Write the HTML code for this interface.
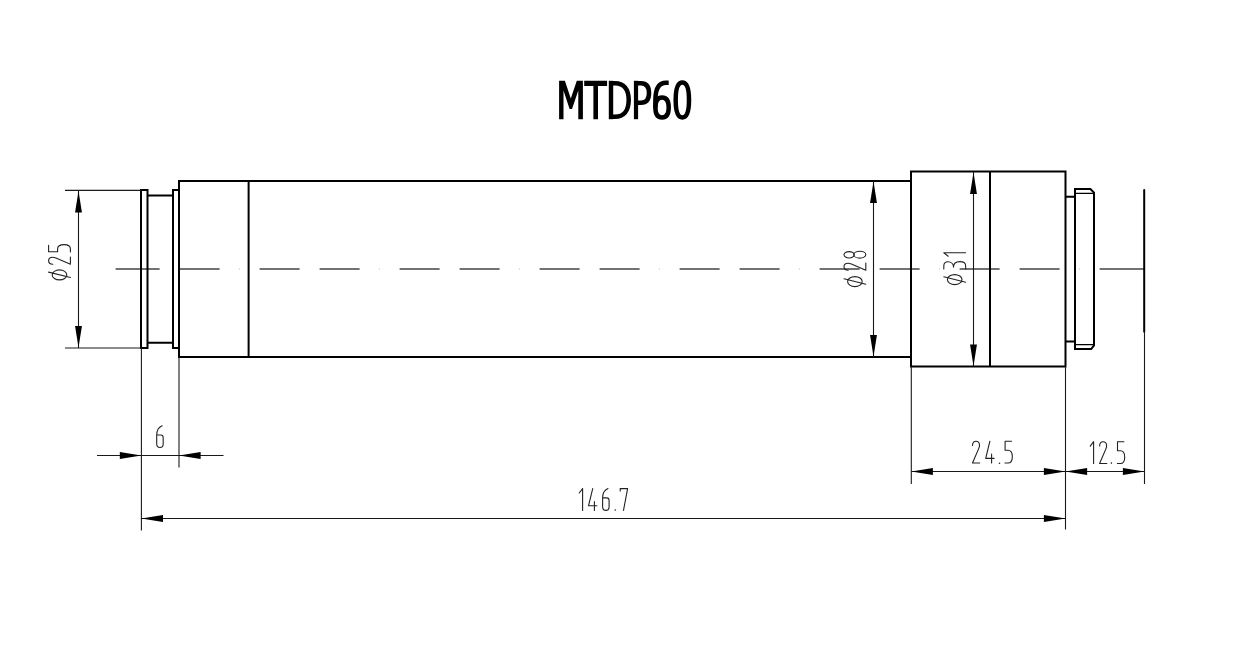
<!DOCTYPE html>
<html><head><meta charset="utf-8">
<style>
html,body{margin:0;padding:0;background:#fff;width:1250px;height:650px;overflow:hidden}
svg{display:block}
.t{font-family:"Liberation Sans",sans-serif;font-weight:bold}
</style></head>
<body>
<svg width="1250" height="650" viewBox="0 0 1250 650">


<!-- title -->
<g fill="#000">
 <path d="M559.1,80.8 H564.9 L570.8,98.6 L576.8,80.8 H582.9 V119.2 H578.3 V90.5 L572,108.9 H569.6 L563.5,90.5 V119.2 H559.1 Z"/>
 <path d="M584.2,80.8 H607.1 V86 H598 V119.2 H593.4 V86 H584.2 Z"/>
 <rect x="608.8" y="80.8" width="4.4" height="38.4"/>
 <rect x="633.9" y="80.8" width="4.2" height="38.4"/>
</g>
<g fill="none" stroke="#000" stroke-width="4.5">
 <path d="M611,83.2 H615 C623.5,83.2 628.7,89 628.7,100 C628.7,111 623.5,116.8 615,116.8 H611"/>
 <path d="M636,83.2 H641 C646.5,83.2 649,86.5 649,93 C649,99.5 646.5,102.8 641,102.8 H636"/>
 <path d="M655.4,107.4 C655.4,100.3 658,97.4 662.05,97.4 C666.1,97.4 668.7,100.3 668.7,107.4 C668.7,114.5 666.1,117.4 662.05,117.4 C658,117.4 655.4,114.5 655.4,107.4 Z"/>
 <path d="M655.4,107.4 V100 C655.4,88.5 659,82.8 666,82.8 H668.7"/>
 <path d="M682.35,82.6 C686.5,82.6 689,87 689,100 C689,113 686.5,117.4 682.35,117.4 C678.2,117.4 675.7,113 675.7,100 C675.7,87 678.2,82.6 682.35,82.6 Z"/>
</g>

<!-- center line -->
<path d="M115.6,269H159.6 M179.6,269H219.6 M259.6,269H299.6 M319.6,269H359.6 M399.6,269H439.6 M459.6,269H499.6 M539.6,269H579.6 M599.6,269H639.6 M679.6,269H719.6 M739.6,269H779.6 M819.6,269H859.6 M879.6,269H919.6 M959.6,269H999.6 M1019.6,269H1059.6 M1099.6,269H1144" stroke="#444" stroke-width="1.3" fill="none"/>
<path d="M239.1,269H239.9 M379.1,269H379.9 M519.1,269H519.9 M659.1,269H659.9 M799.1,269H799.9 M939.1,269H939.9 M1079.1,269H1079.9" stroke="#aaa" stroke-width="1.2" fill="none"/>

<!-- outlines -->
<g stroke="#000" stroke-width="2" fill="none" stroke-linejoin="miter">
 <path d="M141,190 H147.5 V348 H141 Z"/>
 <path d="M147.5,195.4 H173 M147.5,342.8 H173"/>
 <path d="M173,190 H179 V348 H173 Z"/>
 <path d="M179,181 H911 V357.1 H179 Z"/>
 <path d="M248.6,181 V357.1"/>
 <path d="M911,171.6 H1065.5 V366.6 H911 Z"/>
 <path d="M990,171.6 V366.6"/>
 <path d="M1065.5,196.7 H1075 M1065.5,341.5 H1075"/>
 <path d="M1075,189 H1090.4 L1094,192.6 V345.4 L1091.2,349 H1075 Z"/>
 <path d="M1144.2,190 V331.7" stroke-linecap="round"/>
</g>
<g stroke="#000" stroke-width="1.3" fill="none">
 <path d="M1075,193.4 H1094 M1075,344.6 H1094"/>
</g>

<!-- thin dimension lines -->
<g stroke="#1a1a1a" stroke-width="1.1" fill="none">
 <path d="M65,190.4 H141 M65,348 H141 M78.5,191 V347.5"/>
 <path d="M873.5,181 V357"/>
 <path d="M973.5,172 V366"/>
 <path d="M141.4,348 V530.5 M179,357 V467.6"/>
 <path d="M97,455.5 H223.5"/>
 <path d="M911.3,366.5 V484 M1065.5,366.5 V529.5 M1144.5,331.7 V484"/>
 <path d="M911.3,471.5 H1144.5"/>
 <path d="M141.4,518.5 H1065.5"/>
</g>

<!-- arrows -->
<g fill="#000">
 <g transform="translate(78.5,190.9) rotate(90)"><path d="M0,0 L21.6,-3.45 L21.6,3.45 Z"/></g>
 <g transform="translate(78.5,347.6) rotate(-90)"><path d="M0,0 L21.6,-3.45 L21.6,3.45 Z"/></g>
 <g transform="translate(873.5,181.5) rotate(90)"><path d="M0,0 L21.6,-3.45 L21.6,3.45 Z"/></g>
 <g transform="translate(873.5,356.5) rotate(-90)"><path d="M0,0 L21.6,-3.45 L21.6,3.45 Z"/></g>
 <g transform="translate(973.5,172.5) rotate(90)"><path d="M0,0 L21.6,-3.45 L21.6,3.45 Z"/></g>
 <g transform="translate(973.5,366) rotate(-90)"><path d="M0,0 L21.6,-3.45 L21.6,3.45 Z"/></g>
 <g transform="translate(141.4,455.5) rotate(180)"><path d="M0,0 L21.6,-3.45 L21.6,3.45 Z"/></g>
 <g transform="translate(179,455.5)"><path d="M0,0 L21.6,-3.45 L21.6,3.45 Z"/></g>
 <g transform="translate(911.3,471.5)"><path d="M0,0 L21.6,-3.45 L21.6,3.45 Z"/></g>
 <g transform="translate(1065.5,471.5) rotate(180)"><path d="M0,0 L21.6,-3.45 L21.6,3.45 Z"/></g>
 <g transform="translate(1065.5,471.5)"><path d="M0,0 L21.6,-3.45 L21.6,3.45 Z"/></g>
 <g transform="translate(1144.5,471.5) rotate(180)"><path d="M0,0 L21.6,-3.45 L21.6,3.45 Z"/></g>
 <g transform="translate(141.4,518.5)"><path d="M0,0 L21.6,-3.45 L21.6,3.45 Z"/></g>
 <g transform="translate(1065.5,518.5) rotate(180)"><path d="M0,0 L21.6,-3.45 L21.6,3.45 Z"/></g>
</g>

<!-- dimension texts -->
<g stroke="#222" stroke-width="1.1" fill="none" stroke-linecap="round" stroke-linejoin="round">
 <g transform="translate(156.1,425.1)"><path d="M6,0.6 C3.2,1.8 0.6,5 0.6,10.2 V18.6 C0.6,21 2,22.4 3.9,22.4 C5.8,22.4 7.1,21 7.1,18.6 V12.8 C7.1,11 6.2,9.9 4.7,9.9 H0.6"/></g>
 <g transform="translate(0,440.6)">
  <g transform="translate(972.1,0)"><path d="M0.4,4.8 C0.5,1.8 2,0.6 3.8,0.6 C6,0.6 7.4,2.2 7.4,4.6 C7.4,5.8 7.1,6.8 6.6,8 L0.4,22.4 H7.6"/></g>
  <g transform="translate(985.3,0)"><path d="M4.6,0.6 L0.4,17.8 H8.8 M6.3,13.5 V22.4"/></g>
  <g transform="translate(998.8,0.6)"><circle cx="0.7" cy="22" r="0.8" fill="#222" stroke="none"/></g>
  <g transform="translate(1004.6,0)"><path d="M6.9,0.6 H0.5 V9.6 H3.4 C6,9.6 7.7,12 7.7,16.1 C7.7,20.2 6,22.4 3.4,22.4 H0.4"/></g>
 </g>
 <g transform="translate(0,441.1)">
  <g transform="translate(1089.6,0)"><path d="M4,0.6 V22.4 M4,0.6 L0.6,5"/></g>
  <g transform="translate(1099.2,0)"><path d="M0.4,4.8 C0.5,1.8 2,0.6 3.8,0.6 C6,0.6 7.4,2.2 7.4,4.6 C7.4,5.8 7.1,6.8 6.6,8 L0.4,22.4 H7.6"/></g>
  <g transform="translate(1110.7,0)"><circle cx="0.7" cy="22" r="0.8" fill="#222" stroke="none"/></g>
  <g transform="translate(1117,0)"><path d="M6.9,0.6 H0.5 V9.6 H3.4 C6,9.6 7.7,12 7.7,16.1 C7.7,20.2 6,22.4 3.4,22.4 H0.4"/></g>
 </g>
 <g transform="translate(0,488)">
  <g transform="translate(578.6,0)"><path d="M4,0.6 V22.4 M4,0.6 L0.6,5"/></g>
  <g transform="translate(588.1,0)"><path d="M4.6,0.6 L0.4,17.8 H8.8 M6.3,13.5 V22.4"/></g>
  <g transform="translate(602,0)"><path d="M6,0.6 C3.2,1.8 0.6,5 0.6,10.2 V18.6 C0.6,21 2,22.4 3.9,22.4 C5.8,22.4 7.1,21 7.1,18.6 V12.8 C7.1,11 6.2,9.9 4.7,9.9 H0.6"/></g>
  <g transform="translate(614.5,0)"><circle cx="0.7" cy="22" r="0.8" fill="#222" stroke="none"/></g>
  <g transform="translate(619.8,0)"><path d="M0.4,3 V0.6 H7.8 L3.7,22.4"/></g>
 </g>
 <g transform="translate(48,280.9) rotate(-90)">
  <g><ellipse cx="6" cy="11.5" rx="5.0" ry="7.3"/><path d="M8.8,0.6 L3.4,22.4"/></g>
  <g transform="translate(16.3,0)"><path d="M0.4,4.8 C0.5,1.8 2,0.6 3.8,0.6 C6,0.6 7.4,2.2 7.4,4.6 C7.4,5.8 7.1,6.8 6.6,8 L0.4,22.4 H7.6"/></g>
  <g transform="translate(28.6,0)"><path d="M6.9,0.6 H0.5 V9.6 H3.4 C6,9.6 7.7,12 7.7,16.1 C7.7,20.2 6,22.4 3.4,22.4 H0.4"/></g>
 </g>
 <g transform="translate(843.4,287.6) rotate(-90)">
  <g><ellipse cx="6" cy="11.5" rx="5.0" ry="7.3"/><path d="M8.8,0.6 L3.4,22.4"/></g>
  <g transform="translate(17,0)"><path d="M0.4,4.8 C0.5,1.8 2,0.6 3.8,0.6 C6,0.6 7.4,2.2 7.4,4.6 C7.4,5.8 7.1,6.8 6.6,8 L0.4,22.4 H7.6"/></g>
  <g transform="translate(29.2,0)"><ellipse cx="3.6" cy="5.7" rx="3.2" ry="5.1"/><ellipse cx="3.7" cy="16.4" rx="3.4" ry="6"/></g>
 </g>
 <g transform="translate(943.2,285.6) rotate(-90)">
  <g><ellipse cx="6" cy="11.5" rx="5.0" ry="7.3"/><path d="M8.8,0.6 L3.4,22.4"/></g>
  <g transform="translate(16.3,0)"><path d="M0.3,0.6 C2.5,0.6 3.5,0.6 4.5,0.7 C6.5,1 7.6,2.5 7.6,4.7 C7.6,7.8 5.4,10.3 2.2,10.3 C5.5,10.3 7.7,12.8 7.7,16.6 C7.7,20.4 6,22.3 4,22.4 C2.6,22.5 1.3,22.5 0.3,22.5"/></g>
  <g transform="translate(28.8,0)"><path d="M4,0.6 V22.4 M4,0.6 L0.6,5"/></g>
 </g>
</g>
</svg>
</body></html>
